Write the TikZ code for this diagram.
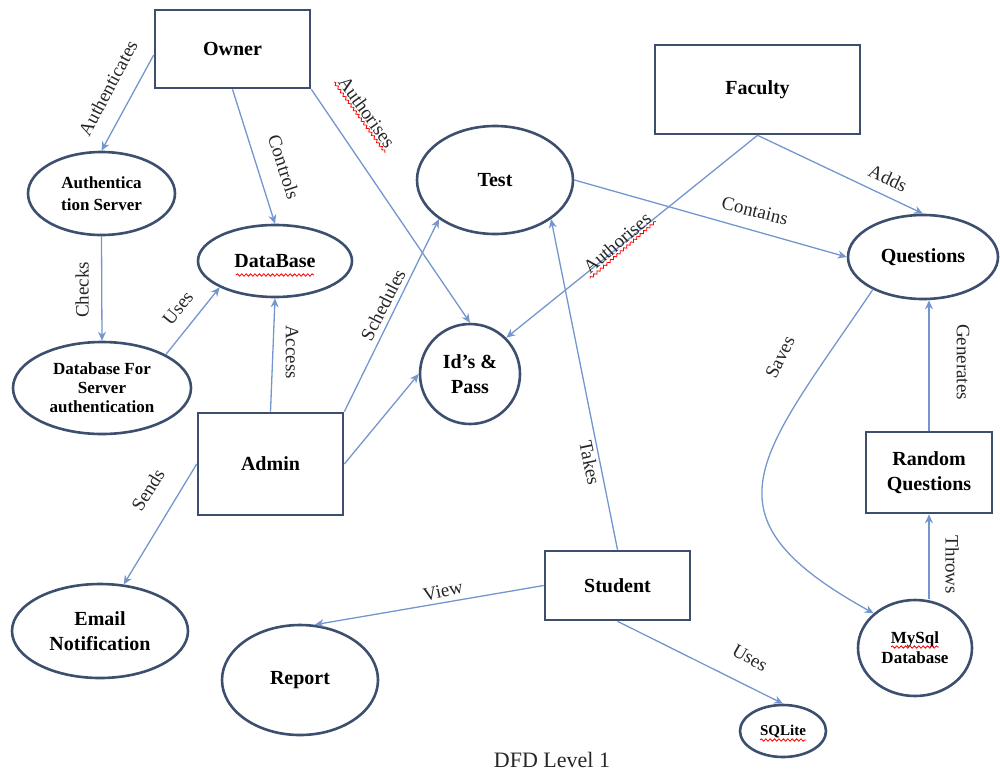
\documentclass[tikz,border=0pt]{standalone}
\usepackage{fontspec}
\setmainfont{Liberation Serif}
\usetikzlibrary{shapes.geometric,arrows.meta,decorations.pathmorphing}
\definecolor{nodeedge}{HTML}{3C4F6E}
\definecolor{flowcol}{HTML}{7496CE}
\begin{document}
\begin{tikzpicture}[x=0.5pt,y=-0.5pt,
  box/.style={draw=nodeedge,line width=1.3pt,rectangle,inner sep=0pt,font=\bfseries\fontsize{10}{12.5}\selectfont,align=center},
  proc/.style={draw=nodeedge,line width=1.3pt,ellipse,inner sep=0pt,font=\bfseries\fontsize{10}{12.5}\selectfont,align=center},
  flowline/.style={draw=flowcol,line width=0.65pt,-{Stealth[length=4.5pt,width=4pt]}},
  lbl/.style={font=\fontsize{9.5}{11}\selectfont,inner sep=1pt,text=black!85},
  squig/.style={draw=red,line width=0.4pt,decorate,decoration={snake,amplitude=0.6pt,segment length=2.2pt}}
]
\useasboundingbox (0,0) rectangle (1000,776);

% external entities
\node[box,minimum width=77.5pt,minimum height=39pt] (owner) at (232.5,49) {Owner};
\node[box,minimum width=102.5pt,minimum height=44.5pt] (faculty) at (757.5,89.5) {Faculty};
\node[box,minimum width=72.5pt,minimum height=51pt] (admin) at (270.5,464) {Admin};
\node[box,minimum width=63pt,minimum height=40.5pt] (randq) at (929,472.5) {Random\\Questions};
\node[box,minimum width=72.5pt,minimum height=34.5pt] (student) at (617.5,585.5) {Student};

% processes / stores
\node[proc,minimum width=73.5pt,minimum height=41.5pt,font=\bfseries\fontsize{8.5}{11}\selectfont] (authsrv) at (101.5,193.5) {Authentica\\tion Server};
\node[proc,minimum width=77pt,minimum height=36pt] (database) at (275,261) {DataBase};
\node[proc,minimum width=89pt,minimum height=46pt,font=\bfseries\fontsize{8.5}{9.5}\selectfont] (dbserver) at (102,388) {Database For\\Server\\authentication};
\node[proc,minimum width=78pt,minimum height=54pt] (test) at (495,180) {Test};
\node[proc,minimum width=50pt,minimum height=50pt] (ids) at (470,374) {Id’s \&\\Pass};
\node[proc,minimum width=75pt,minimum height=42pt] (questions) at (923,257) {Questions};
\node[proc,minimum width=88pt,minimum height=47pt] (email) at (100,631) {Email\\Notification};
\node[proc,minimum width=78pt,minimum height=55pt] (report) at (300,680) {Report};
\node[proc,minimum width=43pt,minimum height=26pt,font=\bfseries\fontsize{7.5}{9}\selectfont] (sqlite) at (783,731) {SQLite};
\node[proc,minimum width=57pt,minimum height=48pt,font=\bfseries\fontsize{8.5}{10}\selectfont] (mysql) at (915,648) {MySql\\Database};

% spelling squiggles inside nodes
\draw[squig] ([shift={(-39,14)}]database.center) -- ([shift={(39,14)}]database.center);
\draw[squig] ([shift={(-24,-1)}]mysql.center) -- ([shift={(24,-1)}]mysql.center);
\draw[squig] ([shift={(-23,9)}]sqlite.center) -- ([shift={(23,9)}]sqlite.center);

% flows
\draw[flowline] ([yshift=-3pt]owner.west) -- (authsrv.north);
\draw[flowline] (owner.south) -- (database.north);
\draw[flowline] (owner.south east) -- (ids.north);
\draw[flowline] (authsrv.south) -- (dbserver.north);
\draw[flowline] (dbserver.north east) -- (database.south west);
\draw[flowline] (admin.north) -- (database.south);
\draw[flowline] (admin.north east) -- (test.south west);
\draw[flowline] (admin.east) -- (ids.west);
\draw[flowline] (admin.west) -- (email.63);
\draw[flowline] (test.east) -- (questions.west);
\draw[flowline] (faculty.south) -- (ids.north east);
\draw[flowline] (faculty.south) -- (questions.north);
\draw[flowline] (student.north) -- (test.south east);
\draw[flowline] (student.west) -- (report.75);
\draw[flowline] (student.south) -- (sqlite.north);
\draw[flowline] (questions.213) .. controls (759,458) and (696,515) .. (mysql.140);
\draw[flowline] (randq.north) -- (randq.north |- questions.south);
\draw[flowline] (randq.south |- mysql.north) -- (randq.south);

% flow labels
\node[lbl,rotate=62] (lauth) at (108,88) {Authenticates};
\node[lbl,rotate=-72] (lctrl) at (284,167) {Controls};
\node[lbl,rotate=-54] (lauthz1) at (367,112) {Authorises};
\draw[squig] (lauthz1.south west) -- (lauthz1.south east);
\node[lbl,rotate=90] (lchecks) at (82,290) {Checks};
\node[lbl,rotate=51] (luses1) at (178,308) {Uses};
\node[lbl,rotate=-90] (laccess) at (292,352) {Access};
\node[lbl,rotate=63] (lsched) at (383,305) {Schedules};
\node[lbl,rotate=58] (lsends) at (148,490) {Sends};
\node[lbl,rotate=-14] (lcontains) at (755,211) {Contains};
\node[lbl,rotate=41] (lauthz2) at (617,243) {Authorises};
\draw[squig] (lauthz2.south west) -- (lauthz2.south east);
\node[lbl,rotate=-25] (ladds) at (888,178) {Adds};
\node[lbl,rotate=-78] (ltakes) at (590,463) {Takes};
\node[lbl,rotate=12] (lview) at (443,591) {View};
\node[lbl,rotate=-30] (luses2) at (750,658) {Uses};
\node[lbl,rotate=64] (lsaves) at (780,357) {Saves};
\node[lbl,rotate=-90] (lgen) at (963,362) {Generates};
\node[lbl,rotate=-90] (lthrows) at (952,565) {Throws};

\node[font=\fontsize{11}{13}\selectfont,text=black!85] (title) at (552,760) {DFD Level 1};
\end{tikzpicture}
\end{document}
